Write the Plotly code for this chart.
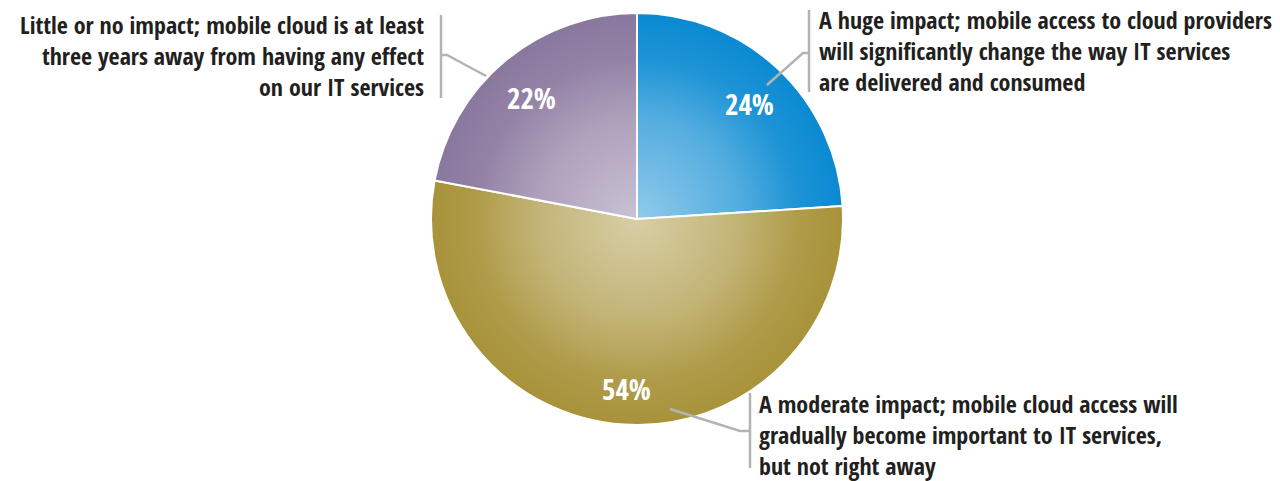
import math, base64
import plotly.graph_objects as go

# ---- data ----
labels = [
    "A huge impact; mobile access to cloud providers<br>will significantly change the way IT services<br>are delivered and consumed",
    "A moderate impact; mobile cloud access will<br>gradually become important to IT services,<br>but not right away",
    "Little or no impact; mobile cloud is at least<br>three years away from having any effect<br>on our IT services",
]
values = [24, 54, 22]
colors = ["#0a8ad2", "#a8933a", "#8a779e"]

W, H = 1280, 481
CX, CY, R = 637, 219, 206

def px(x):
    return x / W

def py(y):
    return 1 - y / H

FONT = "Open Sans Condensed, Roboto Condensed, DejaVu Sans Condensed, sans-serif"

fig = go.Figure(go.Pie(
    labels=labels, values=values, sort=False, direction="clockwise", rotation=0,
    marker=dict(colors=colors, line=dict(color="white", width=2)),
    textinfo="none", hoverinfo="percent", showlegend=False,
    domain=dict(x=[px(CX - R), px(CX + R)], y=[py(CY + R), py(CY - R)]),
))

# radial lightening overlay
svg = ("<svg xmlns='http://www.w3.org/2000/svg' width='412' height='412' viewBox='0 0 412 412'>"
       "<defs><radialGradient id='g' cx='0.5' cy='0.5' r='0.5'>"
       "<stop offset='0' stop-color='white' stop-opacity='0.55'/>"
       "<stop offset='0.5' stop-color='white' stop-opacity='0.30'/>"
       "<stop offset='0.78' stop-color='white' stop-opacity='0.08'/>"
       "<stop offset='1' stop-color='white' stop-opacity='0'/>"
       "</radialGradient></defs><circle cx='206' cy='206' r='206' fill='url(#g)'/></svg>")
src = "data:image/svg+xml;base64," + base64.b64encode(svg.encode()).decode()
fig.add_layout_image(dict(source=src, xref="paper", yref="paper",
                          x=px(CX - R), y=py(CY - R), sizex=2 * R / W, sizey=2 * R / H,
                          xanchor="left", yanchor="top", sizing="stretch", layer="above"))

# percentage labels along slice mid-angles
total = sum(values)
cum = 0
for v in values:
    mid = (cum + v / 2) / total * 2 * math.pi
    cum += v
    rr = 0.8 * R
    x = CX + rr * math.sin(mid)
    y = CY - rr * math.cos(mid)
    fig.add_annotation(x=px(x), y=py(y), xref="paper", yref="paper", showarrow=False,
                       xanchor="center", yanchor="middle", yshift=-5,
                       text=f"{v}%", font=dict(family=FONT, size=29, color="white", weight="bold"))

# category labels
txt_font = dict(family=FONT, size=24, color="#231f20", weight="bold")
placements = [  # (label index, anchor x, middle line centre y, xanchor)
    (2, 426, 55, "right"),
    (0, 817, 50, "left"),
    (1, 757, 434, "left"),
]
for idx, x, yc, xa in placements:
    fig.add_annotation(x=px(x), y=py(yc), xref="paper", yref="paper", showarrow=False,
                       xanchor=xa, yanchor="middle", align=xa, text=labels[idx], font=txt_font)

# leader lines and bars
line_style = dict(color="#b3b3b5", width=2.5)
bars = [(441, 15, 98), (809, 10, 92), (750, 393, 468)]
for x, y0, y1 in bars:
    fig.add_shape(type="line", xref="paper", yref="paper", x0=px(x), x1=px(x),
                  y0=py(y0), y1=py(y1), line=line_style)
leaders = [
    [(486, 76), (447, 55), (441, 55)],
    [(767, 85), (803, 53), (809, 53)],
    [(670, 409), (740, 431), (750, 431)],
]
for pts in leaders:
    path = "M " + " L ".join(f"{px(x)},{py(y)}" for x, y in pts)
    fig.add_shape(type="path", xref="paper", yref="paper", path=path, line=line_style)

fig.update_layout(width=W, height=H, margin=dict(l=0, r=0, t=0, b=0),
                  paper_bgcolor="white", plot_bgcolor="white")
fig.write_html("out.html", post_script="document.body.style.margin='0';",
               config={"displayModeBar": False})
